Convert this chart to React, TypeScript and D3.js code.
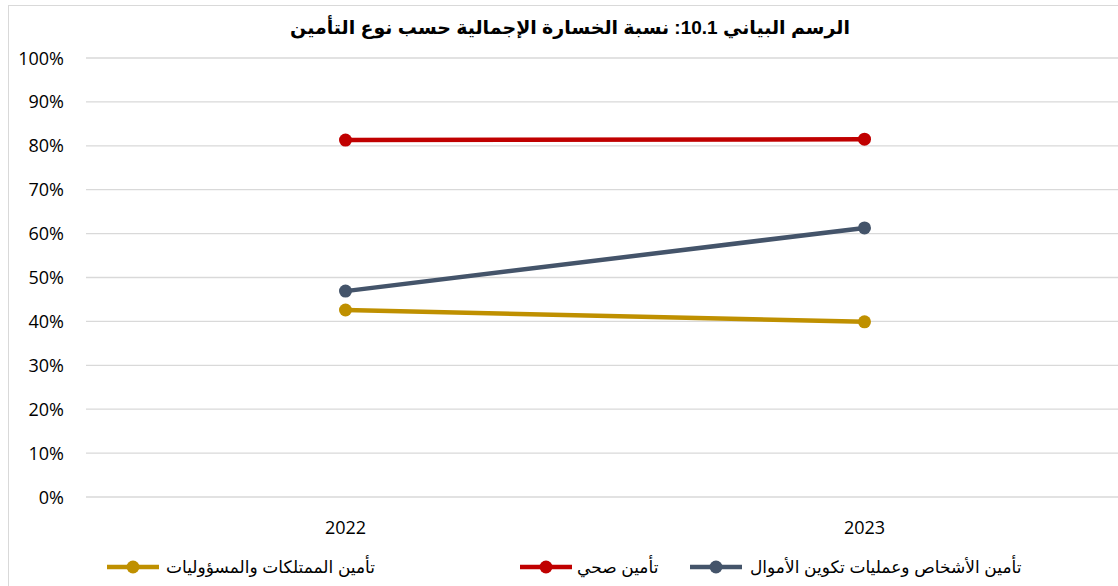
import React from "react";
import * as d3 from "d3";

const years = ["2022", "2023"];
const seriesNames = [
  "تأمين الأشخاص وعمليات تكوين الأموال",
  "تأمين صحي",
  "تأمين الممتلكات والمسؤوليات",
];
const personsValues = [0.469, 0.613];
const healthValues = [0.813, 0.815];
const propertyValues = [0.426, 0.399];
const yTicks = [0, 0.1, 0.2, 0.3, 0.4, 0.5, 0.6, 0.7, 0.8, 0.9, 1.0];
const colors = ["#44546A", "#C00000", "#BF9000"];
const title = "الرسم البياني 10.1: نسبة الخسارة الإجمالية حسب نوع التأمين";

const W = 1118;
const H = 586;

export default function App() {
  const x = d3.scaleBand<string>().domain(years).range([86, 1124]);
  const y = d3.scaleLinear().domain([0, 1]).range([497, 58]);
  const series = [personsValues, healthValues, propertyValues];
  const line = d3
    .line<number>()
    .x((_, i) => (x(years[i]) as number) + x.bandwidth() / 2)
    .y((d) => y(d));
  const legendPos = [
    { lx: 690, tx: 750 },
    { lx: 520, tx: 577 },
    { lx: 107, tx: 166 },
  ];
  const font = "'Open Sans', sans-serif";
  const arabicFont = "Arial, 'Liberation Sans', 'DejaVu Sans', sans-serif";
  return (
    <svg
      width={W}
      height={H}
      style={{ position: "absolute", left: 0, top: 0, background: "#fff" }}
    >
      <rect x={8.5} y={5.5} width={W + 20} height={H + 20} fill="#fff" stroke="#D9D9D9" />
      <text
        x={570}
        y={34}
        textAnchor="middle"
        fontFamily={arabicFont}
        fontWeight="bold"
        fontSize={19}
        fill="#000"
      >
        {title}
      </text>
      {yTicks.map((t) => (
        <g key={t}>
          <line x1={86} x2={W} y1={y(t)} y2={y(t)} stroke="#D9D9D9" strokeWidth={1.3} />
          <text
            x={64}
            y={y(t) + 6.5}
            textAnchor="end"
            fontFamily={font}
            fontSize={18}
            fill="#000"
          >
            {d3.format(".0%")(t)}
          </text>
        </g>
      ))}
      {years.map((yr) => (
        <text
          key={yr}
          x={(x(yr) as number) + x.bandwidth() / 2}
          y={534}
          textAnchor="middle"
          fontFamily={font}
          fontSize={18}
          fill="#000"
        >
          {yr}
        </text>
      ))}
      {series.map((vals, si) => (
        <g key={si}>
          <path d={line(vals) || ""} fill="none" stroke={colors[si]} strokeWidth={4.5} />
          {vals.map((v, i) => (
            <circle
              key={i}
              cx={(x(years[i]) as number) + x.bandwidth() / 2}
              cy={y(v)}
              r={6.5}
              fill={colors[si]}
            />
          ))}
        </g>
      ))}
      {seriesNames.map((name, si) => (
        <g key={name}>
          <line
            x1={legendPos[si].lx}
            x2={legendPos[si].lx + 52}
            y1={567}
            y2={567}
            stroke={colors[si]}
            strokeWidth={4.5}
          />
          <circle cx={legendPos[si].lx + 26} cy={567} r={6.5} fill={colors[si]} />
          <text
            x={legendPos[si].tx}
            y={573}
            fontFamily={arabicFont}
            fontSize={17}
            fill="#000"
          >
            {name}
          </text>
        </g>
      ))}
    </svg>
  );
}
